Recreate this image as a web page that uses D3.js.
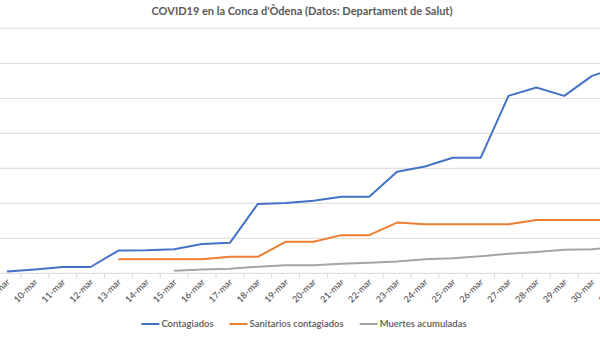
<html>
  <head>
    <style>
      body { margin: 0; background: #fff; }
      text { font-family: Lato, "Open Sans", sans-serif; fill: #595959; }
      .grid line { stroke: #d9d9d9; stroke-width: 1px; }
      .serie { fill: none; stroke-width: 2px; stroke-linejoin: round; }
    </style>
  </head>
  <body>
    <script src="https://d3js.org/d3.v7.min.js"></script>
    <script>
    //datos (dias de marzo)
    var dias = ["9-mar","10-mar","11-mar","12-mar","13-mar","14-mar","15-mar","16-mar","17-mar","18-mar",
                "19-mar","20-mar","21-mar","22-mar","23-mar","24-mar","25-mar","26-mar","27-mar","28-mar",
                "29-mar","30-mar","31-mar"];
    var contagiados = [5, 11, 18, 18, 65, 66, 69, 84, 87, 198, 201, 207, 219, 219, 290, 305, 330, 330, 507, 531, 507, 564, 591];
    var sanitarios = [null, null, null, null, 40, 40, 40, 40, 47, 47, 90, 90, 109, 109, 145, 140, 140, 140, 140, 152, 152, 152, 152];
    var muertes = [null, null, null, null, null, null, 7, 11, 13, 19, 23, 23, 27, 30, 34, 40, 43, 49, 56, 61, 67, 69, 76];
    var yTicks = [0, 100, 200, 300, 400, 500, 600, 700];

    var series = [
      {name: "Contagiados", values: contagiados, color: "#4472C4"},
      {name: "Sanitarios contagiados", values: sanitarios, color: "#ED7D31"},
      {name: "Muertes acumuladas", values: muertes, color: "#A5A5A5"}
    ];

    var width = 600, height = 337;
    var step = 27.86;

    var svg = d3.select("body").append("svg")
        .attr("width", width)
        .attr("height", height);

    //el area del grafico esta recortada por los dos lados
    var x = d3.scaleBand()
        .domain(dias)
        .range([7 - step / 2, 7 - step / 2 + step * dias.length]);

    var y = d3.scaleLinear()
        .domain([0, 700])
        .range([273.3, 28.3]);

    //lineas de division horizontales
    svg.append("g").attr("class", "grid")
      .selectAll("line")
      .data(yTicks.slice(1))
      .enter().append("line")
        .attr("x1", 0).attr("x2", width)
        .attr("y1", function(d) { return y(d); })
        .attr("y2", function(d) { return y(d); });

    //eje x
    var eje = svg.append("g").attr("transform", "translate(0," + y(0) + ")");
    eje.append("line")
        .attr("x1", 0).attr("x2", width)
        .attr("stroke", "#d9d9d9");
    eje.selectAll(".marca")
      .data(dias.slice(1))
      .enter().append("line")
        .attr("class", "marca")
        .attr("x1", function(d) { return x(d); })
        .attr("x2", function(d) { return x(d); })
        .attr("y1", 0).attr("y2", 5)
        .attr("stroke", "#d9d9d9");
    eje.selectAll(".etiqueta")
      .data(dias)
      .enter().append("text")
        .attr("class", "etiqueta")
        .attr("text-anchor", "end")
        .attr("font-size", "9px")
        .attr("font-weight", 600)
        .attr("fill", "#4d4d4d")
        .attr("transform", function(d) {
          return "translate(" + (x(d) + x.bandwidth() / 2 + 1) + ",7) rotate(-45)";
        })
        .attr("dy", "0.35em")
        .text(function(d) { return d; });

    //lineas de las series
    var linea = d3.line()
        .defined(function(d) { return d != null; })
        .x(function(d, i) { return x(dias[i]) + x.bandwidth() / 2; })
        .y(function(d) { return y(d); });

    svg.selectAll(".serie")
      .data(series)
      .enter().append("path")
        .attr("class", "serie")
        .attr("stroke", function(d) { return d.color; })
        .attr("d", function(d) { return linea(d.values); });

    //titulo
    svg.append("text")
        .attr("x", 302)
        .attr("y", 15)
        .attr("text-anchor", "middle")
        .attr("font-size", "11px")
        .attr("font-weight", "bold")
        .text("COVID19 en la Conca d'\u00D2dena (Datos: Departament de Salut)");

    //leyenda centrada
    var leyenda = svg.append("g");
    var pos = 0;
    series.forEach(function(s) {
      var g = leyenda.append("g").attr("transform", "translate(" + pos + ",0)");
      g.append("line")
          .attr("x1", 0).attr("x2", 18)
          .attr("stroke", s.color).attr("stroke-width", 2);
      var t = g.append("text")
          .attr("x", 20)
          .attr("dy", "0.35em")
          .attr("font-size", "9.5px")
          .attr("font-weight", 600)
          .text(s.name);
      pos += 20 + t.node().getComputedTextLength() + 16;
    });
    var total = pos - 16;
    leyenda.attr("transform", "translate(" + (304 - total / 2) + ",324)");
    </script>
  </body>
</html>
